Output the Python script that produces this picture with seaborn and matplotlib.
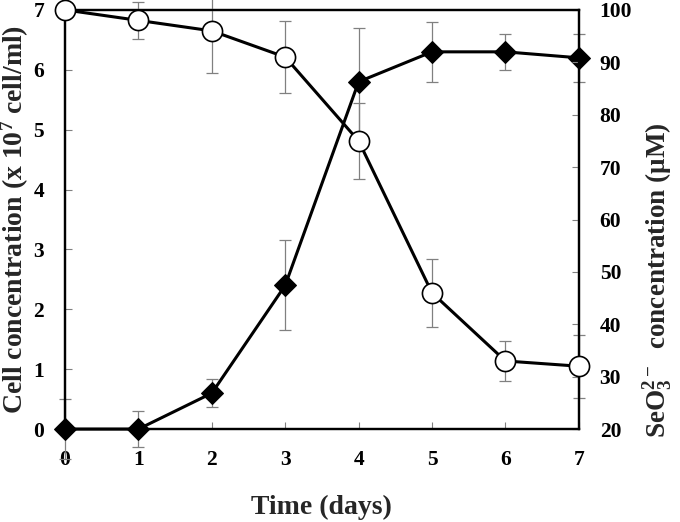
import matplotlib
matplotlib.use('Agg')
import matplotlib.pyplot as plt
import pandas as pd
import seaborn as sns
import numpy as np

# Data
days = [0, 1, 2, 3, 4, 5, 6, 7]
cell = [0, 0, 0.6, 2.4, 5.8, 6.3, 6.3, 6.2]          # x 10^7 cell/ml (left axis)
cell_err = [0.5, 0.3, 0.23, 0.75, 0.9, 0.5, 0.3, 0.4]
selenite = [100, 98, 96, 91, 75, 46, 33, 32]          # uM (right axis)
selenite_err = [0, 3.5, 8, 6.9, 7.3, 6.5, 3.8, 6]

left_ticks = [0, 1, 2, 3, 4, 5, 6, 7]
right_ticks = [20, 30, 40, 50, 60, 70, 80, 90, 100]
day_ticks = [0, 1, 2, 3, 4, 5, 6, 7]

df = pd.DataFrame({'day': days, 'cell': cell, 'cell_err': cell_err,
                   'se': selenite, 'se_err': selenite_err})

sns.set_theme(style='ticks')
plt.rcParams['font.family'] = ['Liberation Serif', 'DejaVu Serif']
plt.rcParams['font.weight'] = 'bold'
plt.rcParams['mathtext.fontset'] = 'custom'
plt.rcParams['mathtext.rm'] = 'Liberation Serif:bold'
plt.rcParams['mathtext.it'] = 'Liberation Serif:bold'
plt.rcParams['mathtext.bf'] = 'Liberation Serif:bold'

fig = plt.figure(figsize=(6.8, 5.22), dpi=100)
ax = fig.add_axes([0.0956, 0.178, 0.7556, 0.803])
ax2 = ax.twinx()

# error bars first (grey, thin)
ax.errorbar(df['day'], df['cell'], yerr=df['cell_err'], fmt='none', ecolor='#808080',
            elinewidth=0.9, capsize=4, capthick=0.9, zorder=1, clip_on=False)
ax2.errorbar(df['day'], df['se'], yerr=df['se_err'], fmt='none', ecolor='#808080',
             elinewidth=0.9, capsize=4, capthick=0.9, zorder=1, clip_on=False)

# cell concentration: filled diamonds
sns.lineplot(data=df, x='day', y='cell', ax=ax, color='black', linewidth=2.2,
             marker='D', markersize=11.5, markerfacecolor='black',
             markeredgecolor='black', zorder=3)
# selenite: open circles
sns.lineplot(data=df, x='day', y='se', ax=ax2, color='black', linewidth=2.2,
             marker='o', markersize=14.5, markerfacecolor='white',
             markeredgecolor='black', markeredgewidth=1.2, zorder=3)

for a in (ax, ax2):
    for ln in a.lines:
        ln.set_clip_on(False)

ax.set_xlim(0, 7)
ax.set_ylim(0, 7)
ax2.set_ylim(20, 100)
ax.set_xticks(day_ticks)
ax.set_yticks(left_ticks)
ax2.set_yticks(right_ticks)

for a in (ax, ax2):
    for s in a.spines.values():
        s.set_linewidth(1.6)
        s.set_color('black')
    a.tick_params(direction='in', length=5, width=0.8, color='#808080',
                  labelsize=15.5, pad=15, labelcolor='black')
ax.tick_params(top=False, right=False)
ax2.tick_params(left=False)

for lab in ax.get_xticklabels() + ax.get_yticklabels() + ax2.get_yticklabels():
    lab.set_fontweight('bold')

ax.set_xlabel('Time (days)', fontsize=20, fontweight='bold', labelpad=18)
ax.set_ylabel('Cell concentration (x 10$^{7}$ cell/ml)', fontsize=20,
              fontweight='bold')
ax.yaxis.set_label_coords(-0.066, 0.5)
ax2.set_ylabel('SeO$_{3}^{2-}$  concentration (\u03bcM)', fontsize=19.5,
               fontweight='bold', rotation=90)
ax2.yaxis.set_label_coords(1.122, 0.356)
ax.grid(False)
ax2.grid(False)

fig.savefig('out.png', dpi=100)
